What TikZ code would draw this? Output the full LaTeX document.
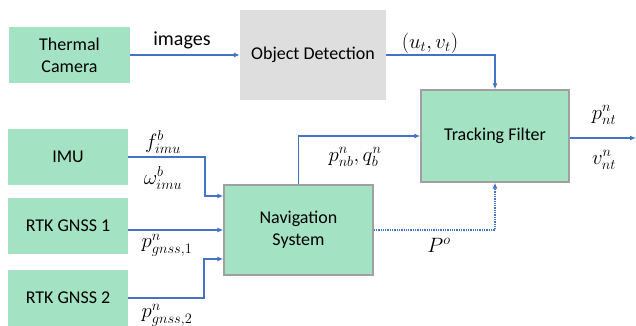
\documentclass[tikz,border=0pt]{standalone}
\usepackage{fontspec}
\setmainfont{Carlito}
\usetikzlibrary{arrows.meta}
\definecolor{boxgreen}{HTML}{A3E2C3}
\definecolor{boxgray}{HTML}{DEDEDE}
\definecolor{edgegray}{HTML}{A0A0A0}
\definecolor{linkblue}{HTML}{4472C4}
\tikzset{
  gbox/.style={rectangle, fill=boxgreen, inner sep=0pt, align=center, font=\fontsize{18}{22}\selectfont},
  bbox/.style={gbox, draw=edgegray, line width=1.3pt},
  link/.style={draw=linkblue, line width=1.3pt, -{Latex[length=6pt,width=5pt]}},
  lab/.style={inner sep=0pt, font=\fontsize{21}{24}\selectfont},
}
\begin{document}
\begin{tikzpicture}[x=1pt,y=-1pt]
\useasboundingbox (0,0) rectangle (636,326);
\node[gbox, minimum width=121pt, minimum height=56pt] (cam) at (69.5,55) {Thermal\\Camera};
\node[gbox, fill=boxgray, minimum width=146pt, minimum height=90pt] (od) at (313,55) {Object Detection};
\node[bbox, minimum width=148pt, minimum height=92pt] (tf) at (495,136) {Tracking Filter};
\node[gbox, minimum width=120pt, minimum height=56pt] (imu) at (68,157) {IMU};
\node[gbox, minimum width=120pt, minimum height=56pt] (g1) at (68,226) {RTK GNSS 1};
\node[gbox, minimum width=120pt, minimum height=56pt] (g2) at (68,298) {RTK GNSS 2};
\node[bbox, minimum width=149pt, minimum height=90pt] (nav) at (298.5,230) {Navigation\\System};
\coordinate (out) at (636,138);
\coordinate (imuk) at (205,157);
\coordinate (g2k) at (204,298);

\draw[link] (cam.east) -- (od.west);
\draw[link] (od.east) -| (tf.north);
\draw[link] (imu.east) -- (imuk) |- ([yshift=34pt]nav.west);
\draw[link] (g1.east |- nav.west) -- (nav.west);
\draw[link] (g2.east) -- (g2k) |- ([yshift=-29pt]nav.west);
\draw[link] (nav.north) |- (tf.west);
\draw[link, densely dotted] (nav.east) -| (tf.south);
\draw[link] (tf.east |- out) -- (out);

\node[lab, font=\fontsize{20}{22}\selectfont] (l1) at (182,40) {images};
\node[lab] (l2) at (430,43) {$(u_t,v_t)$};
\node[lab] (l3) at (163,142) {$f^b_{imu}$};
\node[lab] (l4) at (163,178) {$\omega^b_{imu}$};
\node[lab] (l5) at (167,245) {$p^n_{gnss,1}$};
\node[lab] (l6) at (167,315) {$p^n_{gnss,2}$};
\node[lab] (l7) at (355,157) {$p^n_{nb},q^n_b$};
\node[lab] (l8) at (439,245) {$P^o$};
\node[lab] (l9) at (604,115) {$p^n_{nt}$};
\node[lab] (l10) at (604,160) {$v^n_{nt}$};
\end{tikzpicture}
\end{document}
